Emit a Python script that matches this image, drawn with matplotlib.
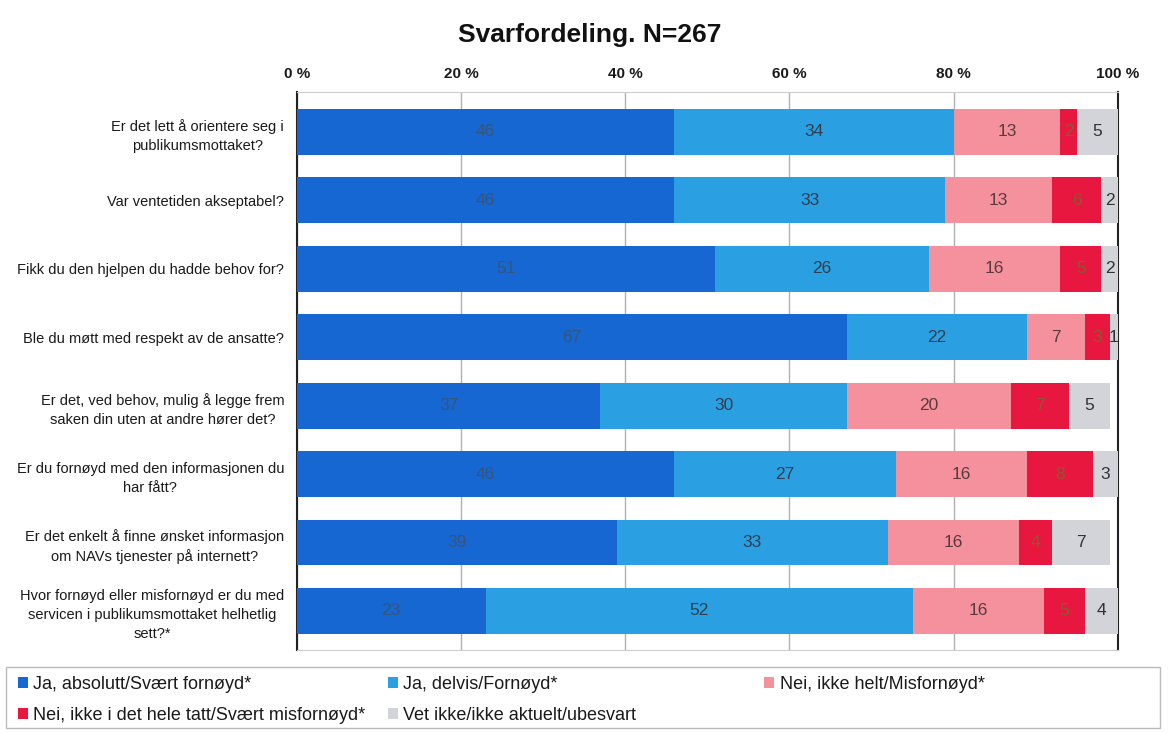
import matplotlib
matplotlib.use("Agg")
import matplotlib.pyplot as plt
from matplotlib.patches import Patch, Rectangle
import numpy as np

plt.rcParams['font.family'] = ['Liberation Sans', 'DejaVu Sans']

questions = [
    "Er det lett å orientere seg i\npublikumsmottaket?",
    "Var ventetiden akseptabel?",
    "Fikk du den hjelpen du hadde behov for?",
    "Ble du møtt med respekt av de ansatte?",
    "Er det, ved behov, mulig å legge frem\nsaken din uten at andre hører det?",
    "Er du fornøyd med den informasjonen du\nhar fått?",
    "Er det enkelt å finne ønsket informasjon\nom NAVs tjenester på internett?",
    "Hvor fornøyd eller misfornøyd er du med\nservicen i publikumsmottaket helhetlig\nsett?*",
]
series_names = [
    "Ja, absolutt/Svært fornøyd*",
    "Ja, delvis/Fornøyd*",
    "Nei, ikke helt/Misfornøyd*",
    "Nei, ikke i det hele tatt/Svært misfornøyd*",
    "Vet ikke/ikke aktuelt/ubesvart",
]
ja_absolutt = [46, 46, 51, 67, 37, 46, 39, 23]
ja_delvis = [34, 33, 26, 22, 30, 27, 33, 52]
nei_ikke_helt = [13, 13, 16, 7, 20, 16, 16, 16]
nei_ikke_i_det_hele = [2, 6, 5, 3, 7, 8, 4, 5]
vet_ikke = [5, 2, 2, 1, 5, 3, 7, 4]
x_ticks = [0, 20, 40, 60, 80, 100]
x_tick_labels = ["0 %", "20 %", "40 %", "60 %", "80 %", "100 %"]

series = [ja_absolutt, ja_delvis, nei_ikke_helt, nei_ikke_i_det_hele, vet_ikke]
colors = ["#1767d2", "#2aa0e2", "#f4919d", "#e8173f", "#d3d3da"]
label_colors = ["#35557f", "#2f3f4f", "#5a3a3e", "#8a5a30", "#333333"]

fig = plt.figure(figsize=(11.68, 7.33), dpi=100)
ax = fig.add_axes([0.254, 0.1132, 0.703, 0.7613])

y = np.arange(len(questions))
left = np.zeros(len(questions))
for vals, col, lcol in zip(series, colors, label_colors):
    vals = np.array(vals, dtype=float)
    bars = ax.barh(y, vals, left=left, height=0.67, color=col, zorder=3)
    for b, v in zip(bars, vals):
        ax.text(b.get_x() + b.get_width() / 2, b.get_y() + b.get_height() / 2,
                f"{int(v)}", ha='center', va='center', fontsize=12.5,
                color=lcol, zorder=4)
    left += vals

ax.set_xlim(0, 100)
ax.set_ylim(len(questions) - 0.43, -0.58)
ax.set_yticks(y)
ax.set_yticklabels(questions, fontsize=10.5, multialignment='center',
                   color='#1a1a1a', linespacing=1.45)
ax.set_xticks(x_ticks)
ax.set_xticklabels(x_tick_labels, fontsize=11, fontweight='bold', color='#1a1a1a')
ax.xaxis.tick_top()
ax.tick_params(axis='both', length=0, pad=8)
ax.tick_params(axis='y', pad=9)
ax.grid(axis='x', color='#b0b0b0', linewidth=1.0, zorder=0)
for s in ['left', 'right']:
    ax.spines[s].set_color('#222222')
    ax.spines[s].set_linewidth(1.5)
for s in ['top', 'bottom']:
    ax.spines[s].set_color('#cccccc')
    ax.spines[s].set_linewidth(0.8)

fig.text(0.505, 0.952, "Svarfordeling. N=267", ha='center', va='center',
         fontsize=19, fontweight='bold', color='#111111')

# legend frame
fig.patches.append(Rectangle((0.005, 0.007), 0.988, 0.083, transform=fig.transFigure,
                             fill=False, edgecolor='#bbbbbb', linewidth=1.0))

handles = [Patch(facecolor=c, edgecolor='none') for c in colors]
groups = [([0, 3], 0.006), ([1, 4], 0.323), ([2], 0.645)]
for idx, xpos in groups:
    leg = fig.legend([handles[i] for i in idx], [series_names[i] for i in idx],
                     loc='upper left', bbox_to_anchor=(xpos, 0.093), frameon=False,
                     fontsize=13, handlelength=0.55, handleheight=0.55,
                     handletextpad=0.3, labelspacing=0.8, borderaxespad=0.2)
    for t in leg.get_texts():
        t.set_color('#1a1a1a')

fig.savefig("out.png", dpi=100, facecolor='white')
